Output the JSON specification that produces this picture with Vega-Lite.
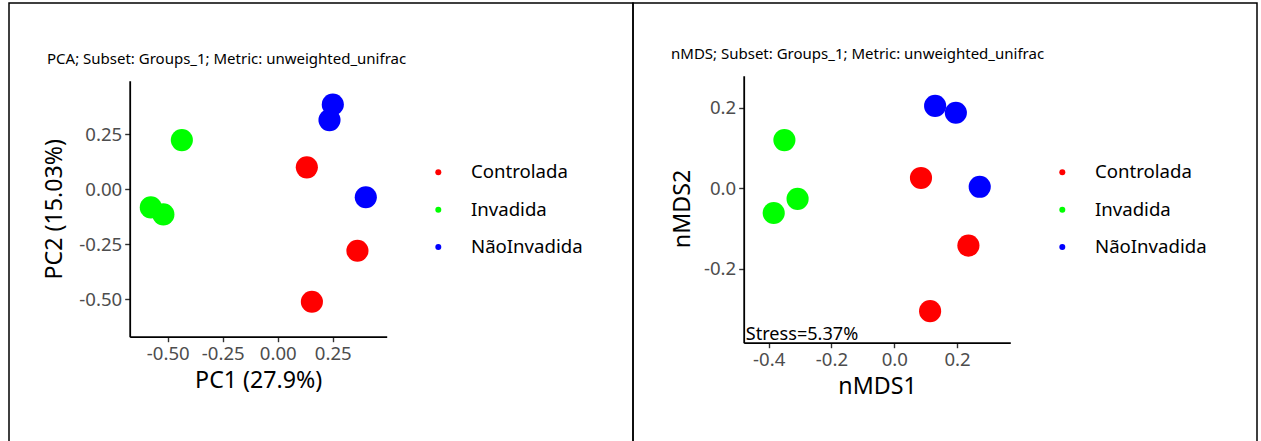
{
  "$schema": "https://vega.github.io/schema/vega-lite/v6.json",
  "background": "white",
  "autosize": {"type": "pad"},
  "padding": {"left": 8, "top": -51, "right": 4, "bottom": 0},
  "bounds": "flush",
  "spacing": 0,
  "title": {
    "text": "Beta diversity: PCA and nMDS ordination (Groups_1)",
    "font": "Liberation Serif",
    "fontSize": 26,
    "fontWeight": "bold",
    "color": "black",
    "anchor": "start",
    "frame": "group",
    "baseline": "alphabetic",
    "offset": 6,
    "dx": 273
  },
  "datasets": {
    "pca": [
      {"group": "Controlada", "x": 0.132, "y": 0.1},
      {"group": "Controlada", "x": 0.362, "y": -0.279},
      {"group": "Controlada", "x": 0.155, "y": -0.511},
      {"group": "Invadida", "x": -0.436, "y": 0.224},
      {"group": "Invadida", "x": -0.577, "y": -0.082},
      {"group": "Invadida", "x": -0.52, "y": -0.114},
      {"group": "NãoInvadida", "x": 0.25, "y": 0.386},
      {"group": "NãoInvadida", "x": 0.235, "y": 0.315},
      {"group": "NãoInvadida", "x": 0.4, "y": -0.036}
    ],
    "nmds": [
      {"group": "Controlada", "x": 0.085, "y": 0.025},
      {"group": "Controlada", "x": 0.236, "y": -0.143},
      {"group": "Controlada", "x": 0.114, "y": -0.306},
      {"group": "Invadida", "x": -0.35, "y": 0.119},
      {"group": "Invadida", "x": -0.308, "y": -0.027},
      {"group": "Invadida", "x": -0.384, "y": -0.062},
      {"group": "NãoInvadida", "x": 0.13, "y": 0.204},
      {"group": "NãoInvadida", "x": 0.196, "y": 0.187},
      {"group": "NãoInvadida", "x": 0.272, "y": 0.003}
    ],
    "stress": [
      {"label": "Stress=5.37%"}
    ]
  },
  "hconcat": [
    {
      "width": 624,
      "height": 470,
      "title": {
        "text": "PCA; Subset: Groups_1; Metric: unweighted_unifrac",
        "anchor": "start",
        "frame": "group",
        "orient": "top",
        "baseline": "alphabetic",
        "offset": -76,
        "dx": 38,
        "font": "Noto Sans",
        "fontSize": 15,
        "fontWeight": "normal",
        "color": "black"
      },
      "layer": [
        {
          "data": {"name": "pca"},
          "mark": {"type": "circle", "size": 490, "opacity": 1},
          "encoding": {
            "x": {
              "field": "x",
              "type": "quantitative",
              "scale": {"domain": [-0.673, 0.495], "range": [120.7, 377.7], "nice": false, "zero": false},
              "axis": {
                "title": "PC1 (27.9%)",
                "values": [-0.5, -0.25, 0, 0.25],
                "labelExpr": "replace(format(datum.value, '.2f'), '\u2212', '-')",
                "offset": -136.3,
                "titleX": 249.2,
                "titleY": 43.3,
                "titleBaseline": "middle"
              }
            },
            "y": {
              "field": "y",
              "type": "quantitative",
              "scale": {"domain": [-0.67, 0.494], "range": [333.7, 77.7], "nice": false, "zero": false},
              "axis": {
                "title": "PC2 (15.03%)",
                "values": [-0.5, -0.25, 0, 0.25],
                "labelExpr": "replace(format(datum.value, '.2f'), '\u2212', '-')",
                "offset": -120.7,
                "titleX": -75.7,
                "titleY": 205.7,
                "titleBaseline": "middle"
              }
            },
            "color": {
              "field": "group",
              "type": "nominal",
              "scale": {"domain": ["Controlada", "Invadida", "NãoInvadida"], "range": ["#FF0000", "#00FF00", "#0000FF"]},
              "legend": {"orient": "none", "legendX": 420, "legendY": 160}
            }
          }
        }
      ]
    },
    {
      "width": 624,
      "height": 470,
      "title": {
        "text": "nMDS; Subset: Groups_1; Metric: unweighted_unifrac",
        "anchor": "start",
        "frame": "group",
        "orient": "top",
        "baseline": "alphabetic",
        "offset": -71,
        "dx": 38,
        "font": "Noto Sans",
        "fontSize": 15,
        "fontWeight": "normal",
        "color": "black"
      },
      "layer": [
        {
          "data": {"name": "nmds"},
          "mark": {"type": "circle", "size": 490, "opacity": 1},
          "encoding": {
            "x": {
              "field": "x",
              "type": "quantitative",
              "scale": {"domain": [-0.4796, 0.3694], "range": [110.7, 377.3], "nice": false, "zero": false},
              "axis": {
                "title": "nMDS1",
                "values": [-0.4, -0.2, 0, 0.2],
                "labelExpr": "replace(format(datum.value, '.1f'), '\u2212', '-')",
                "offset": -130.3,
                "titleX": 244,
                "titleY": 44,
                "titleBaseline": "middle"
              }
            },
            "y": {
              "field": "y",
              "type": "quantitative",
              "scale": {"domain": [-0.3843, 0.279], "range": [339.7, 72.7], "nice": false, "zero": false},
              "axis": {
                "title": "nMDS2",
                "values": [-0.2, 0, 0.2],
                "labelExpr": "replace(format(datum.value, '.1f'), '\u2212', '-')",
                "offset": -110.7,
                "titleX": -61,
                "titleY": 205.5,
                "titleBaseline": "middle"
              }
            },
            "color": {
              "field": "group",
              "type": "nominal",
              "scale": {"domain": ["Controlada", "Invadida", "NãoInvadida"], "range": ["#FF0000", "#00FF00", "#0000FF"]},
              "legend": {"orient": "none", "legendX": 420, "legendY": 160}
            }
          }
        },
        {
          "data": {"name": "stress"},
          "mark": {"type": "text", "align": "left", "baseline": "alphabetic", "font": "Noto Sans", "fontSize": 18.1, "color": "black"},
          "encoding": {
            "x": {"datum": -0.473, "type": "quantitative"},
            "y": {"datum": -0.3776, "type": "quantitative"},
            "text": {"field": "label", "type": "nominal"}
          }
        }
      ]
    }
  ],
  "resolve": {
    "scale": {"x": "independent", "y": "independent", "color": "independent"},
    "legend": {"color": "independent"}
  },
  "config": {
    "font": "Noto Sans",
    "view": {"stroke": "black", "strokeWidth": 1.5},
    "axis": {
      "grid": false,
      "domainColor": "black",
      "domainWidth": 1.8,
      "tickColor": "#333333",
      "tickWidth": 1.4,
      "tickSize": 5,
      "labelColor": "#4D4D4D",
      "labelFont": "Noto Sans",
      "labelFontSize": 18.6,
      "labelPadding": 3,
      "labelFlush": false,
      "labelOverlap": false,
      "titleFont": "Noto Sans",
      "titleFontSize": 23.2,
      "titleFontWeight": "normal",
      "titleColor": "black"
    },
    "legend": {
      "title": null,
      "padding": 0,
      "symbolType": "circle",
      "symbolSize": 36,
      "symbolStrokeWidth": 0,
      "symbolOpacity": 1,
      "labelFont": "Noto Sans",
      "labelFontSize": 18.6,
      "labelColor": "black",
      "labelOffset": 23.4,
      "rowPadding": 18.4
    }
  }
}
